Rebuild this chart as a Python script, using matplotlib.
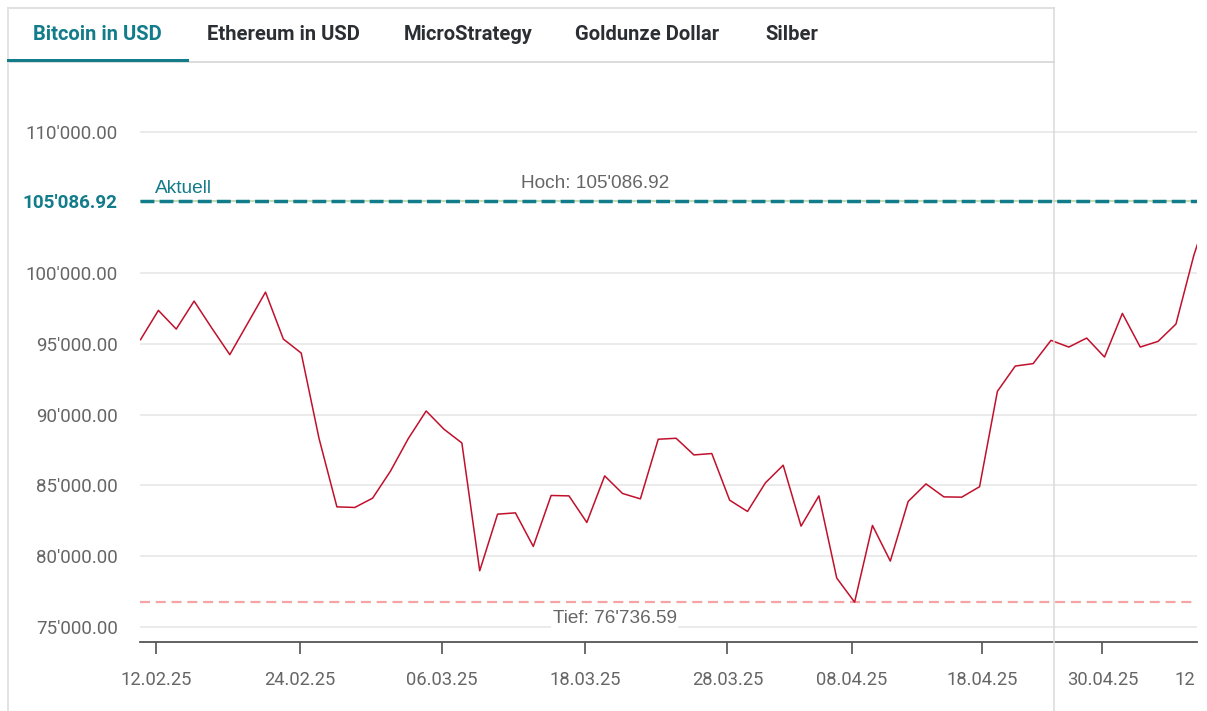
import numpy as np
import matplotlib.pyplot as plt
from matplotlib.lines import Line2D

# Bitcoin closing values (one per trading day, last point is the current quote)
prices = [
    95297, 97366, 96045, 98023, 96100, 94237, 96448, 98658, 95339, 94350,
    88305, 83475, 83432, 84090, 86000, 88305, 90254, 88962, 87994, 78955,
    82959, 83051, 80678, 84280, 84251, 82373, 85664, 84421, 84040, 88256,
    88326, 87147, 87246, 83947, 83150, 85169, 86419, 82112, 84251, 78439,
    76736.59, 82161, 79640, 83856, 85099, 84181, 84160, 84900, 91646, 93432,
    93602, 95247, 94774, 95410, 94068, 97154, 94774, 95177, 96398, 101250,
    105086.92,
]
tick_pos = [0.86, 8.93, 16.89, 24.89, 32.88, 39.83, 47.13, 53.88]
tick_labels = ["12.02.25", "24.02.25", "06.03.25", "18.03.25", "28.03.25",
               "08.04.25", "18.04.25", "30.04.25"]
# the next date label is cut by the chart's edge: only "12" is visible
cut_label = "12"
y_ticks = [75000, 80000, 85000, 90000, 95000, 100000, 110000]
tabs = ["Bitcoin in USD", "Ethereum in USD", "MicroStrategy", "Goldunze Dollar", "Silber"]
tab_x = [33, 207, 404, 575, 765]

current = prices[-1]
high = max(prices)
low = min(prices)

TEAL = "#127c8a"
GREY = "#666666"
W, H = 1207, 711


def fmt(v):
    return f"{v:,.2f}".replace(",", "'")


fig = plt.figure(figsize=(W / 100, H / 100), dpi=100)


# header / frame lines (figure pixel coords, y from top)
def hline(x0, x1, y, color, lw):
    fig.add_artist(Line2D([x0 / W, x1 / W], [1 - y / H, 1 - y / H], color=color, lw=lw * 0.72))


def vline(x, y0, y1, color, lw):
    fig.add_artist(Line2D([x / W, x / W], [1 - y0 / H, 1 - y1 / H], color=color, lw=lw * 0.72))


hline(8, 1054, 8, "#e0e0e0", 2)
hline(8, 1054, 62, "#dcdcdc", 2)
vline(8, 8, H, "#e3e3e3", 2)
vline(1053.5, 8, H, "#d9d9d9", 1.5)
hline(8, 187, 59.5, TEAL, 3)

for i, (t, x) in enumerate(zip(tabs, tab_x)):
    fig.text(x / W, 1 - 35 / H, t, fontsize=14.5, fontweight="bold", family="Roboto",
             color=TEAL if i == 0 else "#2b2f33", ha="left", va="center")

ax = fig.add_axes([140 / W, 1 - 642 / H, 1057 / W, 511 / H])
x = np.arange(len(prices))
ax.plot(x, prices, color="#c0102c", lw=1.1, zorder=3)
ax.set_xlim(-0.03, 59.18)
ax.set_ylim(73920, 110050)

for v in y_ticks:
    ax.axhline(v, color="#e6e6e6", lw=1.1, zorder=1)

# high / current / low reference lines
ax.axhline(high, color="#c5dcb0", lw=1.4, zorder=4)
ax.axhline(current, color=TEAL, lw=2.5, dashes=(4.0, 1.5), zorder=5)
ax.axhline(low, color="#f4a4a4", lw=1.6, dashes=(4.5, 2.6), zorder=2)

ax.annotate("Aktuell", xy=(0.0142, current), xycoords=("axes fraction", "data"),
            xytext=(0, 9.5), textcoords="offset points", ha="left", va="center",
            color=TEAL, fontsize=13.8, family="Liberation Sans")
ax.annotate(f"Hoch: {fmt(high)}", xy=(0.431, high), xycoords=("axes fraction", "data"),
            xytext=(0, 13), textcoords="offset points", ha="center", va="center",
            color=GREY, fontsize=13.7, family="Liberation Sans")
ax.annotate(f"Tief: {fmt(low)}", xy=(0.449, low), xycoords=("axes fraction", "data"),
            xytext=(0, -11.5), textcoords="offset points", ha="center", va="center",
            color=GREY, fontsize=13.7, family="Liberation Sans", zorder=6,
            bbox=dict(boxstyle="square,pad=0.1", fc="white", ec="none"))

ax.set_yticks(y_ticks + [current])
ax.set_yticklabels([fmt(v) for v in y_ticks + [current]])
ax.tick_params(axis="y", length=0, pad=16, labelsize=13.5, labelcolor=GREY)
for lab in ax.get_yticklabels():
    lab.set_family("Roboto")
ylabs = ax.get_yticklabels()
ylabs[-1].set_color(TEAL)
ylabs[-1].set_fontweight("bold")
ylabs[-1].set_fontsize(13.6)

ax.set_xticks(tick_pos)
ax.set_xticklabels(tick_labels)
ax.tick_params(axis="x", length=8.6, width=1.1, color="#444444", pad=12,
               labelsize=13.2, labelcolor=GREY)
for lab in ax.get_xticklabels():
    lab.set_family("Roboto")
ax.annotate(cut_label, xy=(1, 0), xycoords="axes fraction",
            xytext=(-16, -8.6 - 12), textcoords="offset points", ha="left", va="top",
            color=GREY, fontsize=13.2, family="Roboto", annotation_clip=False)

for s in ["top", "right", "left"]:
    ax.spines[s].set_visible(False)
ax.spines["bottom"].set_color("#555555")
ax.spines["bottom"].set_linewidth(1.3)

fig.savefig("out.png", dpi=100)
